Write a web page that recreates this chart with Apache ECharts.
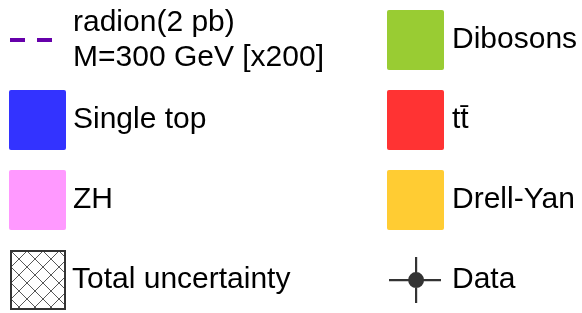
<!DOCTYPE html>
<html>
<head>
<meta charset="utf-8">
<script src="https://cdn.jsdelivr.net/npm/echarts@6/dist/echarts.min.js"></script>
<style>
  html, body { margin: 0; padding: 0; background: #fff; }
  #chart { width: 582px; height: 313px; }
</style>
</head>
<body>
<div id="chart"></div>
<script>
// legend entries, split by column
const radionName = 'radion(2 pb)\nM=300 GeV [x200]'
const leftBoxes = ['Single top', 'ZH']
const rightBoxes = ['Dibosons', 't\u0074\u0304', 'Drell-Yan']
const uncName = 'Total uncertainty'
const dataName = 'Data'
const boxColors = {
    'Single top': '#3333ff',
    'ZH': '#ff99ff',
    'Dibosons': '#99cc33',
    't\u0074\u0304': '#ff3333',
    'Drell-Yan': '#ffcc33'
}
const radionColor = '#6600aa'

// cross hatch for the uncertainty band
const hatch = document.createElement('canvas')
hatch.width = 16
hatch.height = 16
const hctx = hatch.getContext('2d')
hctx.strokeStyle = '#444'
hctx.lineWidth = 0.9
hctx.beginPath()
hctx.moveTo(0, 0); hctx.lineTo(16, 16)
hctx.moveTo(16, 0); hctx.lineTo(0, 16)
hctx.stroke()

const boxIcon = 'path://M2,0H55Q57,0 57,2V58Q57,60 55,60H2Q0,60 0,58V2Q0,0 2,0Z'
const dashIcon = 'path://M0,0h15v4h-15z M27,0h15v4h-15z'
const dataIcon = 'path://M0,22h52v2.2h-52z M26,0h2.2v46h-2.2z M35.1,23.1a8,8 0 1,1 -16,0a8,8 0 1,1 16,0z'

const chart = echarts.init(document.getElementById('chart'))

let series = []
Object.keys(boxColors).forEach(name => {
    series.push({ type: 'bar', name: name, data: [], itemStyle: { color: boxColors[name] } })
})
series.push({
    type: 'bar', name: uncName, data: [],
    itemStyle: {
        color: { image: hatch, repeat: 'repeat' },
        borderColor: '#333', borderWidth: 1, borderType: [2, 3]
    }
})
series.push({ type: 'line', name: radionName, data: [], itemStyle: { color: radionColor } })
series.push({ type: 'scatter', name: dataName, data: [], itemStyle: { color: '#000' } })

const textStyle = { fontFamily: 'Liberation Sans', fontSize: 30, color: '#000' }

const baseLegend = {
    orient: 'vertical',
    padding: 0,
    selectedMode: false,
    symbolKeepAspect: false,
    itemWidth: 57,
    itemHeight: 60,
    itemGap: 20,
    textStyle: Object.assign({}, textStyle, { padding: [0, 0, 0, 2] })
}

let option = {
    animation: false,
    backgroundColor: '#fff',
    grid: { left: 0, right: 0, top: 0, bottom: 0, show: false },
    xAxis: { type: 'category', show: false, data: [] },
    yAxis: { type: 'value', show: false },
    legend: [
        Object.assign({}, baseLegend, {
            left: 9, top: 90,
            data: leftBoxes.map(n => ({ name: n, icon: boxIcon }))
        }),
        Object.assign({}, baseLegend, {
            left: 10, top: 250,
            itemWidth: 54, itemHeight: 58,
            data: [{ name: uncName, icon: 'rect' }]
        }),
        Object.assign({}, baseLegend, {
            left: 387, top: 10,
            data: rightBoxes.map(n => ({ name: n, icon: boxIcon })),
            textStyle: Object.assign({}, textStyle, { padding: [0, 0, 0, 3] })
        }),
        Object.assign({}, baseLegend, {
            left: 10, top: 5,
            itemWidth: 42, itemHeight: 4,
            data: [{ name: radionName, icon: dashIcon }],
            textStyle: Object.assign({}, textStyle, { lineHeight: 35, padding: [0, 0, 0, 16] })
        }),
        Object.assign({}, baseLegend, {
            left: 389, top: 257,
            itemWidth: 52, itemHeight: 46,
            data: [{ name: dataName, icon: dataIcon }],
            textStyle: Object.assign({}, textStyle, { padding: [0, 0, 0, 6] })
        })
    ],
    series: series
}

chart.setOption(option)
</script>
</body>
</html>
